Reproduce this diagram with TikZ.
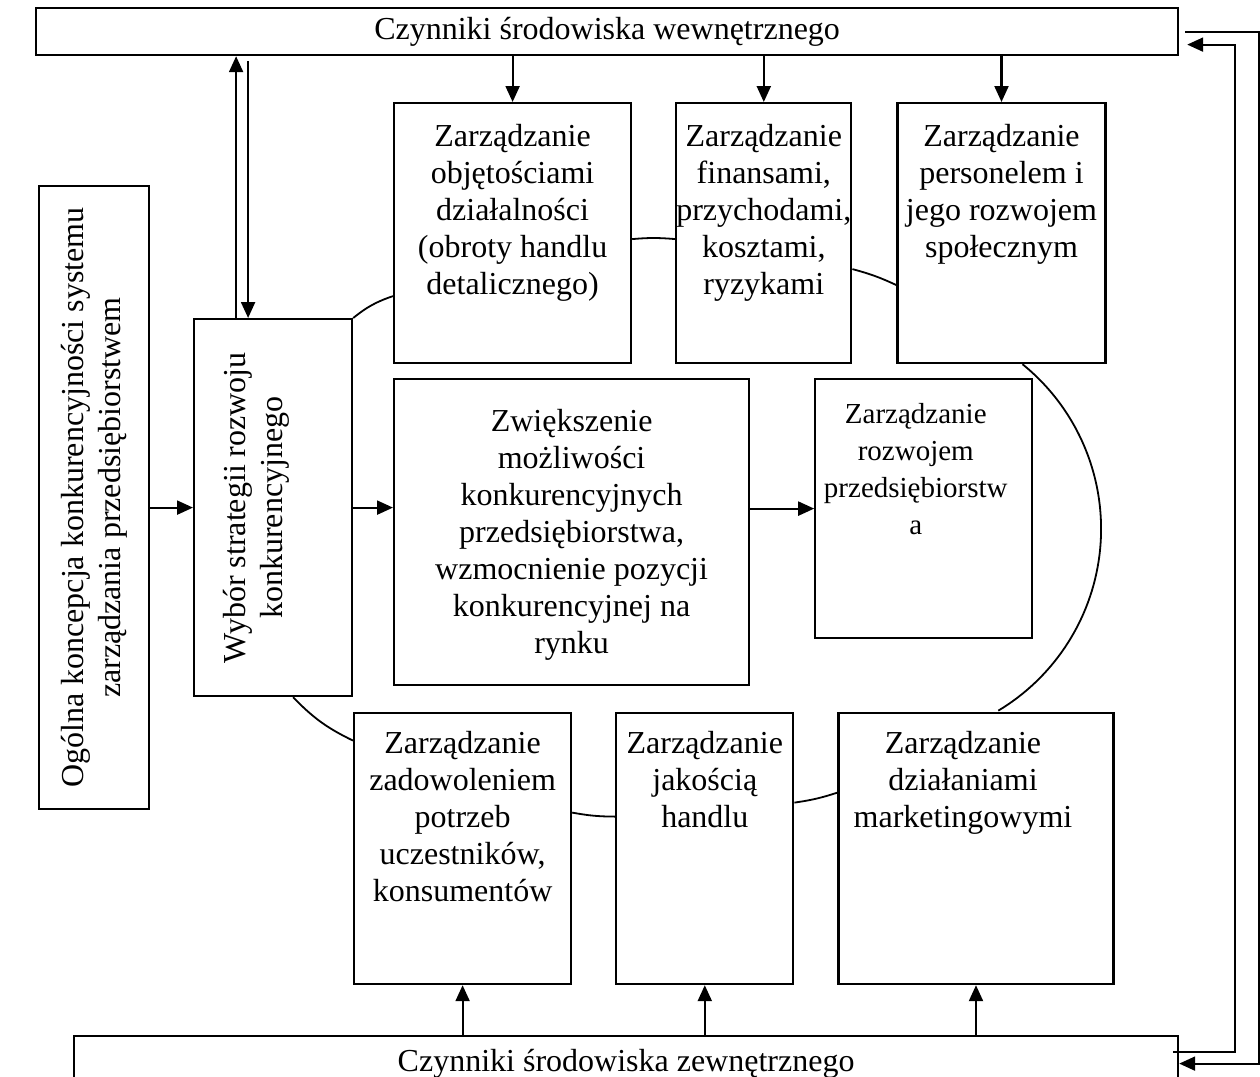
\documentclass[tikz,border=0pt]{standalone}
\usepackage{fontspec}
\setmainfont{Liberation Serif}
\usetikzlibrary{positioning, arrows.meta}

\newcommand{\boxtext}[4]{\parbox[c][#1][t]{#2}{\centering\rule{0pt}{#3}#4}}

\begin{document}
\begin{tikzpicture}[
    x=0.5pt, y=-0.5pt,
    font=\fontsize{16pt}{18.5pt}\selectfont,
    box/.style={rectangle, draw, line width=1.1pt, fill=white, inner sep=0pt, anchor=north west},
    vtext/.style={rotate=90, align=center, inner sep=0pt},
    arrow/.style={-{Triangle[length=8pt, width=7pt]}, line width=1.1pt},
    link/.style={line width=0.9pt}
]
\useasboundingbox (0,0) rectangle (1260,1077);

% Environment bars
\node[box, minimum width=571pt, minimum height=23.5pt] (wew) at (35,7) {Czynniki środowiska wewnętrznego};
\node[box, minimum width=552pt, minimum height=27.5pt] (zew) at (73,1035) {Czynniki środowiska zewnętrznego};

% Left column
\node[box, minimum width=55pt, minimum height=311.5pt] (ogolna) at (38,185) {};
\node[vtext] (ogolnatxt) at (ogolna.center) {Ogólna koncepcja konkurencyjności systemu\\zarządzania przedsiębiorstwem};
\node[box, minimum width=79pt, minimum height=188.5pt] (wybor) at (193,318) {};
\node[vtext] (wybortxt) at ([xshift=-8.5pt]wybor.center) {Wybór strategii rozwoju\\konkurencyjnego};

% Top row
\node[box] (objet) at (393,102) {\boxtext{130pt}{118.5pt}{21.5pt}{Zarządzanie\\objętościami\\działalności\\(obroty handlu\\detalicznego)}};
\node[box, right=21.5pt of objet.north east, anchor=north west] (finanse) {\boxtext{130pt}{87.5pt}{21.5pt}{Zarządzanie\\finansami,\\przychodami,\\kosztami,\\ryzykami}};
\node[box, right=22pt of finanse.north east, anchor=north west] (personel) {\boxtext{130pt}{104pt}{21.5pt}{Zarządzanie\\personelem i\\jego rozwojem\\społecznym}};

% Middle row
\node[box] (zwiek) at (393,378) {\boxtext{153pt}{177.5pt}{26pt}{Zwiększenie\\możliwości\\konkurencyjnych\\przedsiębiorstwa,\\wzmocnienie pozycji\\konkurencyjnej na\\rynku}};
\node[box, right=32pt of zwiek.north east, anchor=north west] (rozwoj) {\boxtext{129.5pt}{100.5pt}{22pt}{\fontsize{14.5pt}{18.5pt}\selectfont Zarządzanie\\rozwojem\\przedsiębiorstw\\a}\hspace*{8pt}};

% Bottom row
\node[box] (zadow) at (353,712) {\boxtext{135.5pt}{108.5pt}{20pt}{Zarządzanie\\zadowoleniem\\potrzeb\\uczestników,\\konsumentów}};
\node[box, right=21.5pt of zadow.north east, anchor=north west] (jakosc) {\boxtext{135.5pt}{88.5pt}{20pt}{Zarządzanie\\jakością\\handlu}};
\node[box, right=21.5pt of jakosc.north east, anchor=north west] (market) {\boxtext{135.5pt}{124.5pt}{20pt}{Zarządzanie\\działaniami\\marketingowymi}\hspace*{13pt}};

% Ring of links
\draw[link] (wybor.north east) to[bend left=10] ([yshift=-31.5pt]objet.west);
\draw[link] ([yshift=-3pt]objet.east) to[bend left=5] ([yshift=-3pt]finanse.west);
\draw[link] ([yshift=-18pt]finanse.east) to[bend left=5] ([yshift=-26pt]personel.west);
\draw[link] ([xshift=10.5pt]personel.south) arc[start angle=-51, end angle=59, radius=212];
\draw[link] ([yshift=28pt]market.west) to[bend left=5] ([yshift=23pt]jakosc.east);
\draw[link] ([yshift=16pt]jakosc.west) to[bend left=5] ([yshift=18pt]zadow.east);
\draw[link] ([yshift=54pt]zadow.west) to[bend left=10] ([xshift=10pt]wybor.south);

% Arrows
\draw[arrow] (wew.south -| objet.north) -- (objet.north);
\draw[arrow] (wew.south -| finanse.north) -- (finanse.north);
\draw[arrow] (wew.south -| personel.north) -- (personel.north);
\draw[arrow] (zew.north -| zadow.south) -- (zadow.south);
\draw[arrow] (zew.north -| jakosc.south) -- (jakosc.south);
\draw[arrow] (zew.north -| market.south) -- (market.south);

\draw[arrow] (ogolna.east |- wybor.west) -- (wybor.west);
\draw[arrow] (wybor.east) -- (wybor.east -| zwiek.west);
\draw[arrow] (zwiek.east |- rozwoj.west) -- (rozwoj.west);

\coordinate (upfoot) at ([xshift=-18.5pt]wybor.north);
\coordinate (downfoot) at ([xshift=-12.5pt]wybor.north);
\draw[arrow] (upfoot) -- (upfoot |- wew.south);
\draw[arrow, shorten <=2.5pt] (downfoot |- wew.south) -- (downfoot);

% Feedback between the bars
\draw[arrow] ([xshift=3pt]wew.east) -- ++(74,0) |- (zew.east);
\draw[arrow] ([xshift=-3pt, yshift=6pt]zew.east) -- ++(62,0) |- ([xshift=4pt, yshift=-6.5pt]wew.east);

\end{tikzpicture}
\end{document}
